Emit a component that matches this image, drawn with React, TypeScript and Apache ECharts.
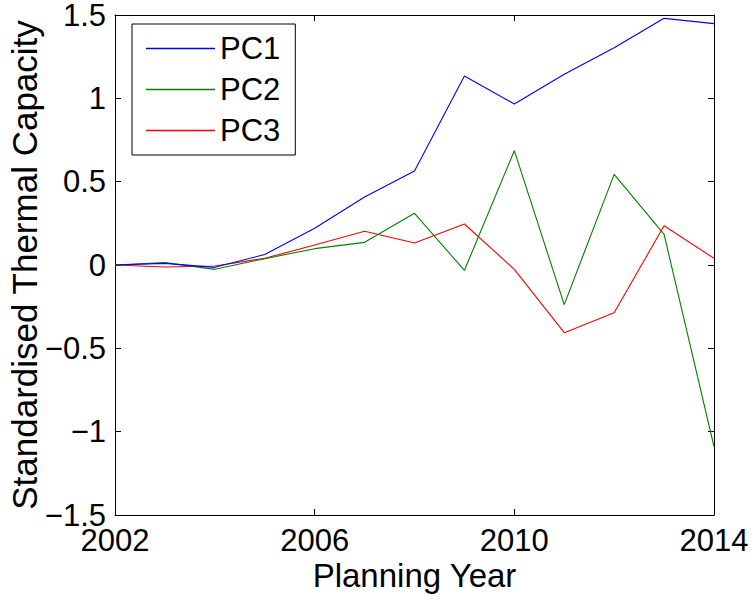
import React, { useEffect, useRef } from "react";
import * as echarts from "echarts";

const years = ["2002", "2003", "2004", "2005", "2006", "2007", "2008", "2009", "2010", "2011", "2012", "2013", "2014"];
const pc1 = [0, 0.01, -0.014, 0.063, 0.22, 0.408, 0.564, 1.134, 0.966, 1.144, 1.304, 1.48, 1.448];
const pc2 = [0, 0.014, -0.026, 0.038, 0.098, 0.136, 0.31, -0.032, 0.686, -0.238, 0.544, 0.184, -1.09];
const pc3 = [0, -0.012, -0.006, 0.04, 0.12, 0.202, 0.132, 0.246, -0.026, -0.406, -0.286, 0.236, 0.04];
const seriesNames = ["PC1", "PC2", "PC3"];
const seriesColors = ["#0000ff", "#008000", "#ff0000"];

const FONT = "'Liberation Sans', Arial, Helvetica, sans-serif";

export default function App() {
  const ref = useRef<HTMLDivElement>(null);
  useEffect(() => {
    if (!ref.current) return;
    const chart = echarts.init(ref.current, null, { renderer: "svg" });
    const tickCommon = { show: true, inside: true, length: 6, lineStyle: { color: "#000", width: 1 } };
    const lineCommon = { show: true, onZero: false, lineStyle: { color: "#000", width: 1 } };
    const values = [pc1, pc2, pc3];
    chart.setOption({
      animation: false,
      backgroundColor: "#fff",
      textStyle: { fontFamily: FONT, color: "#000" },
      grid: { left: 115, top: 15, width: 599, height: 500, containLabel: false, outerBoundsMode: "none" },
      legend: {
        orient: "vertical",
        left: 132,
        top: 24,
        padding: [9, 15, 9, 14],
        icon: "rect",
        itemWidth: 69,
        itemHeight: 1.4,
        itemGap: 10,
        borderColor: "#000",
        borderWidth: 1,
        backgroundColor: "#fff",
        textStyle: { fontFamily: FONT, fontSize: 31, color: "#000", lineHeight: 31 },
        data: seriesNames,
      },
      xAxis: [
        {
          type: "category",
          data: years,
          boundaryGap: false,
          position: "bottom",
          axisLine: lineCommon,
          axisTick: { ...tickCommon, interval: 3 },
          axisLabel: { interval: 3, margin: 10, fontSize: 31, color: "#000", fontFamily: FONT },
          splitLine: { show: false },
          name: "Planning Year",
          nameLocation: "middle",
          nameGap: 44,
          nameMoveOverlap: false,
          nameTextStyle: { fontSize: 33, color: "#000", fontFamily: FONT, verticalAlign: "top" },
        },
        {
          type: "category",
          data: years,
          boundaryGap: false,
          position: "top",
          axisLine: lineCommon,
          axisTick: { ...tickCommon, interval: 3 },
          axisLabel: { show: false },
          splitLine: { show: false },
        },
      ],
      yAxis: [
        {
          type: "value",
          min: -1.5,
          max: 1.5,
          interval: 0.5,
          position: "left",
          axisLine: lineCommon,
          axisTick: tickCommon,
          axisLabel: {
            margin: 9,
            fontSize: 31,
            color: "#000",
            fontFamily: FONT,
            formatter: (v: number) => String(v).replace("-", "\u2212"),
          },
          splitLine: { show: false },
          name: "Standardised Thermal Capacity",
          nameLocation: "middle",
          nameGap: 73,
          nameMoveOverlap: false,
          nameTextStyle: { fontSize: 35, color: "#000", fontFamily: FONT },
        },
        {
          type: "value",
          min: -1.5,
          max: 1.5,
          interval: 0.5,
          position: "right",
          axisLine: lineCommon,
          axisTick: tickCommon,
          axisLabel: { show: false },
          splitLine: { show: false },
        },
      ],
      series: seriesNames.map((name, i) => ({
        name,
        type: "line",
        data: values[i],
        xAxisIndex: 0,
        yAxisIndex: 0,
        symbol: "none",
        showSymbol: false,
        color: seriesColors[i],
        itemStyle: { color: seriesColors[i] },
        lineStyle: { color: seriesColors[i], width: 1.1 },
        z: 3 - i,
      })),
    });
    return () => chart.dispose();
  }, []);
  return (
    <div
      ref={ref}
      style={{ position: "fixed", left: 0, top: 0, width: 754, height: 601, background: "#fff" }}
    />
  );
}
